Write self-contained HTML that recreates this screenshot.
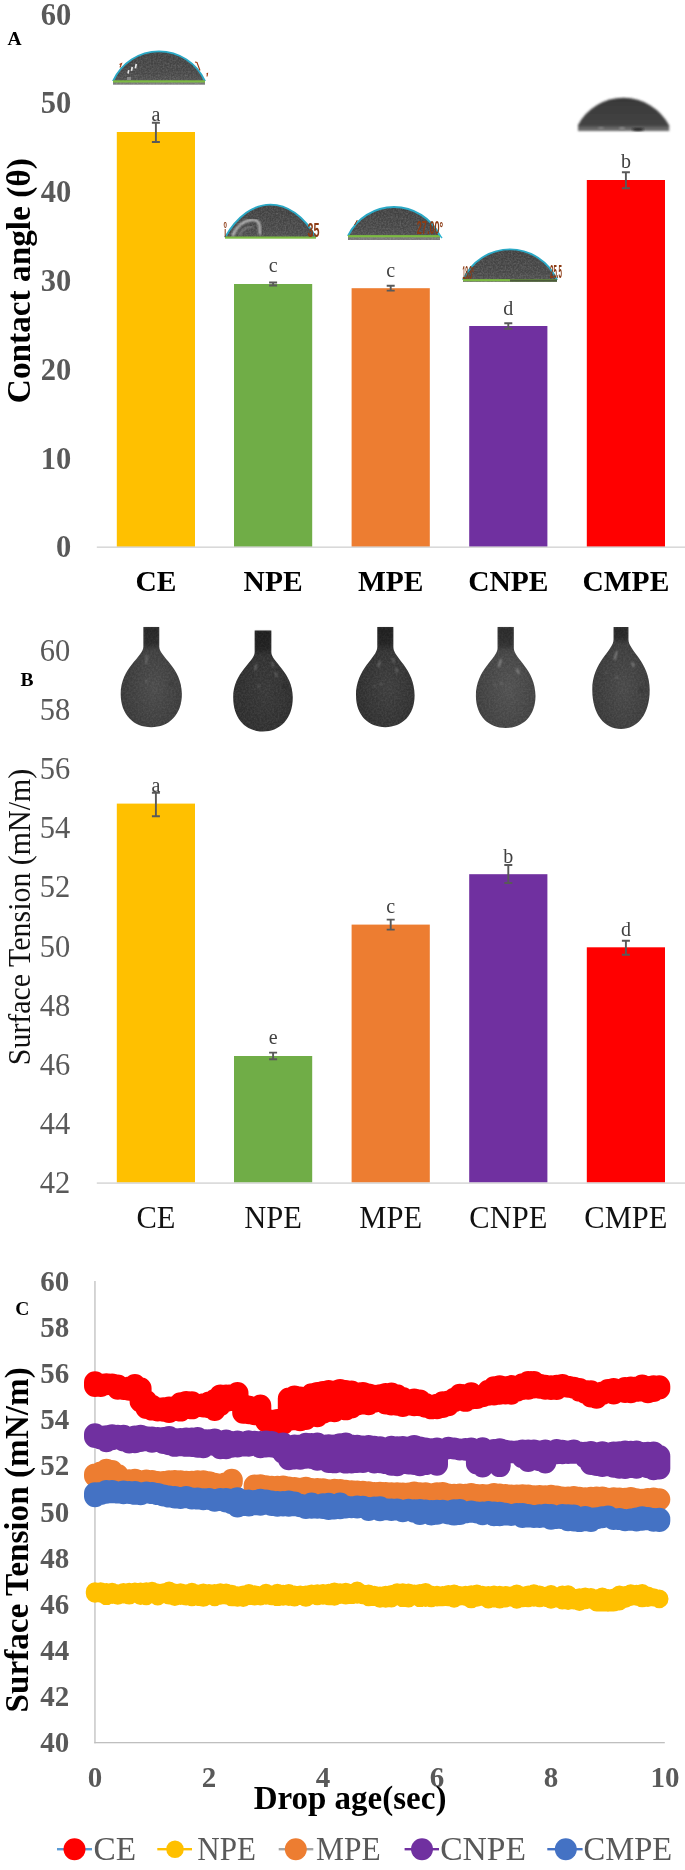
<!DOCTYPE html>
<html lang="en"><head><meta charset="utf-8"><title>Figure</title>
<style>
html,body{margin:0;padding:0;background:#fff;}
body{width:685px;height:1870px;overflow:hidden;font-family:"Liberation Serif",serif;}
svg{position:absolute;left:0;top:0;display:block;will-change:transform;font-family:'Liberation Serif', serif;}
</style></head>
<body>
<svg width="685" height="1870" viewBox="0 0 685 1870">
<defs>
<filter id="soft" x="-5%" y="-5%" width="110%" height="110%"><feGaussianBlur stdDeviation="0.55"/></filter>
<filter id="grain" x="-5%" y="-5%" width="110%" height="110%" color-interpolation-filters="sRGB">
<feGaussianBlur in="SourceGraphic" stdDeviation="0.55" result="b"/>
<feTurbulence type="fractalNoise" baseFrequency="0.6" numOctaves="2" seed="4" result="t"/>
<feColorMatrix in="t" type="matrix" values="0 0 0 0 1  0 0 0 0 1  0 0 0 0 1  0.30 0 0 0 -0.10" result="w0"/>
<feGaussianBlur in="w0" stdDeviation="0.45" result="w"/>
<feComposite in="w" in2="b" operator="in" result="wn"/>
<feMerge><feMergeNode in="b"/><feMergeNode in="wn"/></feMerge>
</filter>
<filter id="grain2" x="-5%" y="-5%" width="110%" height="110%" color-interpolation-filters="sRGB">
<feGaussianBlur in="SourceGraphic" stdDeviation="0.7" result="b"/>
<feTurbulence type="fractalNoise" baseFrequency="0.55" numOctaves="2" seed="9" result="t"/>
<feColorMatrix in="t" type="matrix" values="0 0 0 0 1  0 0 0 0 1  0 0 0 0 1  0.16 0 0 0 -0.05" result="w0"/>
<feGaussianBlur in="w0" stdDeviation="0.5" result="w"/>
<feComposite in="w" in2="b" operator="in" result="wn"/>
<feMerge><feMergeNode in="b"/><feMergeNode in="wn"/></feMerge>
</filter>
<linearGradient id="ndl" x1="0" y1="0" x2="0" y2="1"><stop offset="0" stop-color="#000" stop-opacity="0.32"/><stop offset="0.7" stop-color="#000" stop-opacity="0.28"/><stop offset="1" stop-color="#000" stop-opacity="0"/></linearGradient>
<linearGradient id="gsd" x1="0" y1="0" x2="0" y2="1"><stop offset="0" stop-color="#3f3f3f"/><stop offset="0.75" stop-color="#474747"/><stop offset="1" stop-color="#505050"/></linearGradient>
<filter id="soft2" x="-5%" y="-5%" width="110%" height="110%"><feGaussianBlur stdDeviation="0.8"/></filter>
<radialGradient id="gd1" cx="0.55" cy="0.6" r="0.6"><stop offset="0" stop-color="#4a4a4a"/><stop offset="1" stop-color="#363636"/></radialGradient>
<radialGradient id="gd2" cx="0.55" cy="0.6" r="0.6"><stop offset="0" stop-color="#373737"/><stop offset="1" stop-color="#2a2a2a"/></radialGradient>
<radialGradient id="gd3" cx="0.55" cy="0.6" r="0.6"><stop offset="0" stop-color="#3d3d3d"/><stop offset="1" stop-color="#2b2b2b"/></radialGradient>
<radialGradient id="gd4" cx="0.55" cy="0.6" r="0.6"><stop offset="0" stop-color="#505050"/><stop offset="1" stop-color="#3c3c3c"/></radialGradient>
<radialGradient id="gd5" cx="0.55" cy="0.6" r="0.6"><stop offset="0" stop-color="#484848"/><stop offset="1" stop-color="#363636"/></radialGradient>
<linearGradient id="gs5" x1="0" y1="0" x2="0" y2="1"><stop offset="0" stop-color="#383838"/><stop offset="0.84" stop-color="#444"/><stop offset="0.91" stop-color="#6c6c6c"/><stop offset="1" stop-color="#626262"/></linearGradient>
</defs>
<text x="71.3" y="24.6" font-size="30.5" font-weight="bold" fill="#595959" text-anchor="end" >60</text>
<text x="71.3" y="113.4" font-size="30.5" font-weight="bold" fill="#595959" text-anchor="end" >50</text>
<text x="71.3" y="202.2" font-size="30.5" font-weight="bold" fill="#595959" text-anchor="end" >40</text>
<text x="71.3" y="291.0" font-size="30.5" font-weight="bold" fill="#595959" text-anchor="end" >30</text>
<text x="71.3" y="379.7" font-size="30.5" font-weight="bold" fill="#595959" text-anchor="end" >20</text>
<text x="71.3" y="468.5" font-size="30.5" font-weight="bold" fill="#595959" text-anchor="end" >10</text>
<text x="71.3" y="557.3" font-size="30.5" font-weight="bold" fill="#595959" text-anchor="end" >0</text>
<text x="7.5" y="44.6" font-size="19.5" font-weight="bold" fill="#000" text-anchor="start" >A</text>
<text transform="translate(29.8,280.7) rotate(-90) scale(0.96,1)" font-size="34.7" font-weight="bold" fill="#000" text-anchor="middle">Contact angle (θ)</text>
<rect x="116.8" y="132.0" width="78.2" height="415.2" fill="#FFC000"/>
<rect x="234.0" y="284.0" width="78.2" height="263.2" fill="#70AD47"/>
<rect x="351.6" y="288.2" width="78.2" height="259.0" fill="#ED7D31"/>
<rect x="469.2" y="326.0" width="78.2" height="221.2" fill="#7030A0"/>
<rect x="586.8" y="180.0" width="78.2" height="367.2" fill="#FF0000"/>
<rect x="96.8" y="546.4000000000001" width="588.2" height="1.6" fill="#D9D9D9"/>
<path d="M151.9,122.7 h8.0 M151.9,142.0 h8.0 M155.9,122.7 V142.0" stroke="#595959" stroke-width="1.9" fill="none"/>
<text x="155.9" y="120.6" font-size="20" font-weight="normal" fill="#404040" text-anchor="middle" >a</text>
<path d="M269.1,282.5 h8.0 M269.1,285.5 h8.0 M273.1,282.5 V285.5" stroke="#595959" stroke-width="1.9" fill="none"/>
<text x="273.1" y="271.7" font-size="20" font-weight="normal" fill="#404040" text-anchor="middle" >c</text>
<path d="M386.70000000000005,285.8 h8.0 M386.70000000000005,290.6 h8.0 M390.70000000000005,285.8 V290.6" stroke="#595959" stroke-width="1.9" fill="none"/>
<text x="390.7" y="276.8" font-size="20" font-weight="normal" fill="#404040" text-anchor="middle" >c</text>
<path d="M504.3,323.2 h8.0 M504.3,328.8 h8.0 M508.3,323.2 V328.8" stroke="#595959" stroke-width="1.9" fill="none"/>
<text x="508.3" y="315.1" font-size="20" font-weight="normal" fill="#404040" text-anchor="middle" >d</text>
<path d="M621.9,172.2 h8.0 M621.9,188.3 h8.0 M625.9,172.2 V188.3" stroke="#595959" stroke-width="1.9" fill="none"/>
<text x="625.9" y="167.8" font-size="20" font-weight="normal" fill="#404040" text-anchor="middle" >b</text>
<text x="155.9" y="591.3" font-size="29.5" font-weight="bold" fill="#000" text-anchor="middle" >CE</text>
<text x="273.1" y="591.3" font-size="29.5" font-weight="bold" fill="#000" text-anchor="middle" >NPE</text>
<text x="390.7" y="591.3" font-size="29.5" font-weight="bold" fill="#000" text-anchor="middle" >MPE</text>
<text x="508.3" y="591.3" font-size="29.5" font-weight="bold" fill="#000" text-anchor="middle" >CNPE</text>
<text x="625.9" y="591.3" font-size="29.5" font-weight="bold" fill="#000" text-anchor="middle" >CMPE</text>
<g>
<path d="M113,81.2 A50.4,50.4 0 0 1 205,81.2 Z" fill="url(#gsd)" filter="url(#grain)"/>
<rect x="113" y="81.2" width="92" height="3.5" fill="#787878" filter="url(#grain)"/>
<path d="M113,81.2 A50.4,50.4 0 0 1 205,81.2" fill="none" stroke="#2BA9C6" stroke-width="1.9"/>
<rect x="113" y="80.3" width="92" height="2.2" fill="#7DBB42"/>
</g>
<g fill="#e8e8e8" filter="url(#soft)"><rect x="127.5" y="70" width="1.6" height="3.5" transform="rotate(12 128 72)"/><rect x="131" y="67" width="1.7" height="4" transform="rotate(12 132 69)"/><rect x="135" y="64" width="1.7" height="4.5" transform="rotate(12 136 66)"/><rect x="127" y="77" width="4" height="3" fill="#888"/></g>
<path d="M119.5,64.5 l2,-1 l-1.5,4 M195,62 l2,0.5 l3,8 M206.5,74 l1,-0.5 l-0.5,3" stroke="#A03C14" stroke-width="1.1" fill="none"/>
<g>
<path d="M225,237.4 C250.0,193.7 291.0,193.7 316,237.4 Z" fill="url(#gsd)" filter="url(#grain)"/>
<path d="M225,237.4 C250.0,193.7 291.0,193.7 316,237.4" fill="none" stroke="#2BA9C6" stroke-width="1.9"/>
<rect x="225" y="236.5" width="91" height="2.2" fill="#7DBB42"/>
</g>
<path d="M232.5,236 C236,227 243,221 251,220 C260,219 260,225 260,234.5" stroke="#d8d8d8" stroke-width="2.3" fill="none" filter="url(#soft2)" opacity="0.85"/>
<path d="M239,235.5 C242,229 247,226.5 254,226.5" stroke="#9a9a9a" stroke-width="1.4" fill="none" filter="url(#soft2)" opacity="0.8"/>
<g fill="#8C3B14" font-weight="bold" font-family="Liberation Sans, sans-serif"><text x="223.6" y="227.8" font-size="9" textLength="3.4" lengthAdjust="spacingAndGlyphs">0</text><text x="307.5" y="236.5" font-size="20" textLength="12" lengthAdjust="spacingAndGlyphs">35</text></g>
<path d="M225.2,229 v8" stroke="#8C3B14" stroke-width="1" fill="none"/>
<g>
<path d="M348,236.0 A51.0,51.0 0 0 1 440,236.0 Z" fill="url(#gsd)" filter="url(#grain)"/>
<rect x="348" y="236.0" width="92" height="4.0" fill="#787878" filter="url(#grain)"/>
<path d="M348,236.0 A51.0,51.0 0 0 1 440,236.0" fill="none" stroke="#2BA9C6" stroke-width="1.9"/>
<rect x="348" y="235.1" width="92" height="2.2" fill="#7DBB42"/>
</g>
<g fill="#8C3B14" font-size="19" font-weight="bold" font-family="Liberation Sans, sans-serif"><text x="416.8" y="234.4" textLength="26.4" lengthAdjust="spacingAndGlyphs">27.00°</text></g>
<path d="M438,233 l4,5" stroke="#2EB5D2" stroke-width="1.4"/><path d="M354.5,225 l2.8,-5" stroke="#8C3B14" stroke-width="1"/>
<g>
<path d="M463,280.0 A51.4,51.4 0 0 1 557,280.0 Z" fill="url(#gsd)" filter="url(#grain)"/>
<rect x="463" y="280.0" width="94" height="2.0" fill="#787878" filter="url(#grain)"/>
<path d="M463,280.0 A51.4,51.4 0 0 1 557,280.0" fill="none" stroke="#2BA9C6" stroke-width="1.9"/>
<rect x="463" y="279.1" width="94" height="2.2" fill="#7DBB42"/>
</g>
<g fill="#8C3B14" font-size="18" font-weight="bold" font-family="Liberation Sans, sans-serif"><text x="462.6" y="278.6" textLength="11.4" lengthAdjust="spacingAndGlyphs">18.3°</text><text x="550" y="277.8" textLength="12" lengthAdjust="spacingAndGlyphs">25.5</text></g>
<rect x="510" y="279.4" width="47" height="2.2" fill="#4b5a3a"/>
<path d="M578,131 L578,125 A51.6,51.6 0 0 1 669.2,125.6 L669.2,131 Z" fill="url(#gs5)" filter="url(#soft2)"/>
<ellipse cx="638" cy="129.3" rx="6" ry="1.6" fill="#252525" filter="url(#soft2)"/><ellipse cx="622" cy="128.5" rx="3" ry="1.5" fill="#8a8a8a" filter="url(#soft2)"/><ellipse cx="601" cy="128.3" rx="3" ry="1.4" fill="#858585" filter="url(#soft2)"/>
<text x="70.3" y="1192.8" font-size="30.5" font-weight="normal" fill="#595959" text-anchor="end" >42</text>
<text x="70.3" y="1133.7" font-size="30.5" font-weight="normal" fill="#595959" text-anchor="end" >44</text>
<text x="70.3" y="1074.6" font-size="30.5" font-weight="normal" fill="#595959" text-anchor="end" >46</text>
<text x="70.3" y="1015.6" font-size="30.5" font-weight="normal" fill="#595959" text-anchor="end" >48</text>
<text x="70.3" y="956.5" font-size="30.5" font-weight="normal" fill="#595959" text-anchor="end" >50</text>
<text x="70.3" y="897.4" font-size="30.5" font-weight="normal" fill="#595959" text-anchor="end" >52</text>
<text x="70.3" y="838.3" font-size="30.5" font-weight="normal" fill="#595959" text-anchor="end" >54</text>
<text x="70.3" y="779.2" font-size="30.5" font-weight="normal" fill="#595959" text-anchor="end" >56</text>
<text x="70.3" y="720.2" font-size="30.5" font-weight="normal" fill="#595959" text-anchor="end" >58</text>
<text x="70.3" y="661.1" font-size="30.5" font-weight="normal" fill="#595959" text-anchor="end" >60</text>
<text x="20.6" y="686.0" font-size="19.5" font-weight="bold" fill="#000" text-anchor="start" >B</text>
<text transform="translate(30.4,917) rotate(-90) scale(0.935,1)" font-size="32" fill="#111" text-anchor="middle">Surface Tension (mN/m)</text>
<rect x="116.8" y="803.6" width="78.2" height="379.1" fill="#FFC000"/>
<rect x="234.0" y="1056.0" width="78.2" height="126.7" fill="#70AD47"/>
<rect x="351.6" y="924.6" width="78.2" height="258.1" fill="#ED7D31"/>
<rect x="469.2" y="874.2" width="78.2" height="308.5" fill="#7030A0"/>
<rect x="586.8" y="947.3" width="78.2" height="235.4" fill="#FF0000"/>
<rect x="96.8" y="1182.3" width="588.2" height="1.6" fill="#D9D9D9"/>
<path d="M151.9,792.8 h8.0 M151.9,816.3 h8.0 M155.9,792.8 V816.3" stroke="#595959" stroke-width="1.9" fill="none"/>
<text x="155.9" y="791.8" font-size="20" font-weight="normal" fill="#404040" text-anchor="middle" >a</text>
<path d="M269.1,1052.6 h8.0 M269.1,1059.2 h8.0 M273.1,1052.6 V1059.2" stroke="#595959" stroke-width="1.9" fill="none"/>
<text x="273.1" y="1043.6" font-size="20" font-weight="normal" fill="#404040" text-anchor="middle" >e</text>
<path d="M386.70000000000005,919.6 h8.0 M386.70000000000005,929.6 h8.0 M390.70000000000005,919.6 V929.6" stroke="#595959" stroke-width="1.9" fill="none"/>
<text x="390.7" y="912.8" font-size="20" font-weight="normal" fill="#404040" text-anchor="middle" >c</text>
<path d="M504.3,865.0 h8.0 M504.3,883.0 h8.0 M508.3,865.0 V883.0" stroke="#595959" stroke-width="1.9" fill="none"/>
<text x="508.3" y="862.5" font-size="20" font-weight="normal" fill="#404040" text-anchor="middle" >b</text>
<path d="M621.9,940.7 h8.0 M621.9,954.8 h8.0 M625.9,940.7 V954.8" stroke="#595959" stroke-width="1.9" fill="none"/>
<text x="625.9" y="935.5" font-size="20" font-weight="normal" fill="#404040" text-anchor="middle" >d</text>
<text x="155.9" y="1228.0" font-size="30.5" font-weight="normal" fill="#111" text-anchor="middle" >CE</text>
<text x="273.1" y="1228.0" font-size="30.5" font-weight="normal" fill="#111" text-anchor="middle" >NPE</text>
<text x="390.7" y="1228.0" font-size="30.5" font-weight="normal" fill="#111" text-anchor="middle" >MPE</text>
<text x="508.3" y="1228.0" font-size="30.5" font-weight="normal" fill="#111" text-anchor="middle" >CNPE</text>
<text x="625.9" y="1228.0" font-size="30.5" font-weight="normal" fill="#111" text-anchor="middle" >CMPE</text>
<path d="M143.4,627.0 L143.4,646.5 C143.4,657.0 120.70000000000002,667.4 120.70000000000002,694.0 C120.70000000000002,714.6 133.6,727.2 151.3,727.2 C169.0,727.2 181.9,714.6 181.9,694.0 C181.9,667.4 159.20000000000002,657.0 159.20000000000002,646.5 L159.20000000000002,627.0 Z" fill="url(#gd1)" filter="url(#grain2)"/>
<rect x="144.0" y="627.8" width="14.6" height="22.5" fill="url(#ndl)" filter="url(#soft2)"/>
<path d="M254.7,630.4 L254.7,652.0 C254.7,662.0 233.2,672.0 233.2,697.5 C233.2,718.6 245.7,731.5 263.0,731.5 C280.3,731.5 292.8,718.6 292.8,697.5 C292.8,672.0 271.3,662.0 271.3,652.0 L271.3,630.4 Z" fill="url(#gd2)" filter="url(#grain2)"/>
<rect x="255.3" y="631.1999999999999" width="15.4" height="24.6" fill="url(#ndl)" filter="url(#soft2)"/>
<path d="M377.3,627.0 L377.3,647.0 C377.3,657.7 356.0,668.4 356.0,695.6 C356.0,715.2 368.3,727.2 385.3,727.2 C402.3,727.2 414.6,715.2 414.6,695.6 C414.6,668.4 393.3,657.7 393.3,647.0 L393.3,627.0 Z" fill="url(#gd3)" filter="url(#grain2)"/>
<rect x="377.9" y="627.8" width="14.8" height="23.0" fill="url(#ndl)" filter="url(#soft2)"/>
<path d="M497.59999999999997,627.0 L497.59999999999997,648.0 C497.59999999999997,658.6 475.9,669.1 475.9,696.0 C475.9,715.8 488.4,728.0 505.7,728.0 C523.0,728.0 535.5,715.8 535.5,696.0 C535.5,669.1 513.8,658.6 513.8,648.0 L513.8,627.0 Z" fill="url(#gd4)" filter="url(#grain2)"/>
<rect x="498.2" y="627.8" width="15.0" height="24.0" fill="url(#ndl)" filter="url(#soft2)"/>
<path d="M613.6,627.0 L613.6,639.5 C613.6,650.6 592.3,661.7 592.3,690.0 C592.3,714.2 604.4,729.0 621.0,729.0 C637.6,729.0 649.7,714.2 649.7,690.0 C649.7,661.7 628.4,650.6 628.4,639.5 L628.4,627.0 Z" fill="url(#gd5)" filter="url(#grain2)"/>
<rect x="614.2" y="627.8" width="13.6" height="15.5" fill="url(#ndl)" filter="url(#soft2)"/>
<g fill="#8c8c8c" filter="url(#soft2)" opacity="0.85"><rect x="146" y="655" width="1.2" height="9" transform="rotate(5 146 659)"/><circle cx="146.5" cy="681.5" r="0.9"/><circle cx="171" cy="684" r="2" fill="#333" opacity="0.7"/><rect x="255" y="664" width="1.4" height="6" transform="rotate(15 255 667)"/><rect x="272" y="662" width="1.2" height="5" transform="rotate(-15 272 664)"/><rect x="275.5" y="672" width="1.2" height="5" transform="rotate(-20 276 674)"/><circle cx="258.5" cy="686.5" r="1"/><circle cx="285" cy="687" r="2" fill="#262626" opacity="0.7"/><rect x="378.5" y="661" width="1.4" height="6" transform="rotate(15 379 664)"/><rect x="392.5" y="658" width="1.2" height="5" transform="rotate(-20 393 660)"/><rect x="396" y="668" width="1.3" height="5" transform="rotate(-20 396 670)"/><circle cx="381" cy="684" r="0.9"/><circle cx="374.5" cy="685.5" r="0.8"/><rect x="499" y="659" width="1.8" height="8" transform="rotate(15 500 663)" fill="#a2a2a2"/><rect x="517" y="668" width="1.6" height="6" transform="rotate(-18 518 671)" fill="#a2a2a2"/><circle cx="501.5" cy="683.5" r="1"/><circle cx="495" cy="685.5" r="0.8"/><rect x="615" y="651" width="1.7" height="9" transform="rotate(14 616 655)" fill="#9a9a9a"/><rect x="632" y="662" width="1.7" height="5" transform="rotate(-20 633 664)" fill="#9a9a9a"/><circle cx="617" cy="677.5" r="1"/><circle cx="606" cy="672" r="0.8"/><circle cx="641" cy="690" r="2.2" fill="#303030" opacity="0.7"/></g>
<text x="69.3" y="1752.3" font-size="29" font-weight="bold" fill="#595959" text-anchor="end" >40</text>
<text x="69.3" y="1706.1" font-size="29" font-weight="bold" fill="#595959" text-anchor="end" >42</text>
<text x="69.3" y="1660.0" font-size="29" font-weight="bold" fill="#595959" text-anchor="end" >44</text>
<text x="69.3" y="1613.8" font-size="29" font-weight="bold" fill="#595959" text-anchor="end" >46</text>
<text x="69.3" y="1567.7" font-size="29" font-weight="bold" fill="#595959" text-anchor="end" >48</text>
<text x="69.3" y="1521.5" font-size="29" font-weight="bold" fill="#595959" text-anchor="end" >50</text>
<text x="69.3" y="1475.4" font-size="29" font-weight="bold" fill="#595959" text-anchor="end" >52</text>
<text x="69.3" y="1429.2" font-size="29" font-weight="bold" fill="#595959" text-anchor="end" >54</text>
<text x="69.3" y="1383.1" font-size="29" font-weight="bold" fill="#595959" text-anchor="end" >56</text>
<text x="69.3" y="1337.0" font-size="29" font-weight="bold" fill="#595959" text-anchor="end" >58</text>
<text x="69.3" y="1290.8" font-size="29" font-weight="bold" fill="#595959" text-anchor="end" >60</text>
<text x="15.2" y="1315.3" font-size="19.5" font-weight="bold" fill="#000" text-anchor="start" >C</text>
<text transform="translate(28.2,1539.9) rotate(-90) scale(0.97,1)" font-size="34.3" font-weight="bold" fill="#000" text-anchor="middle">Surface Tension (mN/m)</text>
<text x="95.0" y="1787.0" font-size="29" font-weight="bold" fill="#595959" text-anchor="middle" >0</text>
<text x="209.0" y="1787.0" font-size="29" font-weight="bold" fill="#595959" text-anchor="middle" >2</text>
<text x="323.0" y="1787.0" font-size="29" font-weight="bold" fill="#595959" text-anchor="middle" >4</text>
<text x="437.0" y="1787.0" font-size="29" font-weight="bold" fill="#595959" text-anchor="middle" >6</text>
<text x="551.0" y="1787.0" font-size="29" font-weight="bold" fill="#595959" text-anchor="middle" >8</text>
<text x="665.0" y="1787.0" font-size="29" font-weight="bold" fill="#595959" text-anchor="middle" >10</text>
<text x="350.0" y="1808.8" font-size="33" font-weight="bold" fill="#000" text-anchor="middle" >Drop age(sec)</text>
<rect x="94.3" y="1281" width="1.3" height="462.3" fill="#BFBFBF"/>
<rect x="94.3" y="1742" width="570.5" height="1.3" fill="#BFBFBF"/>
<path d="M95.0,1382.3V1386.01M100.7,1384.6V1385.88M106.4,1384.2V1384.19M112.1,1384.4V1384.45M117.8,1385.6V1388.77M123.5,1388.9V1388.89M129.2,1387.4V1389.66M134.9,1385.1V1389.33M140.6,1388.2V1401.47M146.3,1401.1V1408.02M152.0,1405.8V1409.60M157.7,1408.2V1410.50M163.4,1408.3V1410.68M169.1,1407.6V1411.89M174.8,1406.9V1410.08M180.5,1403.2V1410.61M186.2,1401.9V1408.17M191.9,1402.2V1408.36M197.6,1405.4V1406.08M203.3,1404.3V1406.40M209.0,1402.4V1407.17M214.7,1400.0V1410.07M220.4,1395.4V1404.86M226.1,1395.4V1401.02M231.8,1395.3V1400.01M237.5,1393.1V1398.72M243.2,1408.4V1412.80M248.9,1406.4V1413.26M254.6,1408.8V1414.13M260.3,1405.6V1414.82M266.0,1420.0V1421.18M271.7,1420.7V1422.81M277.4,1420.1V1423.40M283.1,1420.2V1423.75M288.8,1398.6V1420.02M294.5,1396.5V1419.23M300.2,1397.5V1420.26M305.9,1397.7V1419.05M311.6,1394.2V1415.14M317.3,1392.9V1416.32M323.0,1391.9V1412.68M328.7,1391.1V1411.04M334.4,1391.4V1411.26M340.1,1390.0V1408.21M345.8,1390.9V1409.37M351.5,1391.6V1407.59M357.2,1393.2V1404.35M362.9,1393.0V1403.58M368.6,1394.5V1404.25M374.3,1395.8V1401.71M380.0,1395.2V1400.10M385.7,1393.9V1403.38M391.4,1393.4V1404.51M397.1,1395.3V1404.78M402.8,1398.0V1405.91M408.5,1402.9V1404.54M414.2,1399.5V1405.14M419.9,1400.4V1405.14M425.6,1403.9V1406.63M431.3,1405.7V1408.36M437.0,1404.8V1408.34M442.7,1402.2V1407.00M448.4,1401.4V1405.16M454.1,1398.8V1401.34M459.8,1394.7V1399.61M465.5,1395.0V1400.87M471.2,1393.2V1398.48M476.9,1397.0V1398.03M482.6,1395.5V1396.29M488.3,1390.8V1394.80M494.0,1387.2V1394.39M499.7,1386.2V1393.66M505.4,1387.2V1393.56M511.1,1386.1V1393.67M516.8,1387.2V1390.83M522.5,1384.3V1389.09M528.2,1382.1V1388.66M533.9,1382.1V1387.52M539.6,1384.8V1387.77M545.3,1385.7V1388.84M551.0,1386.2V1388.93M556.7,1385.8V1389.05M562.4,1385.0V1386.21M568.1,1386.8V1386.82M573.8,1387.8V1387.82M579.5,1389.1V1390.62M585.2,1391.0V1392.60M590.9,1391.3V1396.50M596.6,1393.2V1397.73M602.3,1392.4V1394.03M608.0,1390.0V1391.78M613.7,1388.9V1393.42M619.4,1389.7V1390.93M625.1,1387.9V1391.98M630.8,1387.5V1392.31M636.5,1387.6V1390.87M642.2,1385.5V1390.57M647.9,1386.9V1392.14M653.6,1386.3V1391.08M659.3,1386.3V1388.49" stroke="#FF0000" stroke-width="22" stroke-linecap="round" fill="none"/>
<path d="M95.0,1591.5V1593.53M100.7,1591.5V1593.48M106.4,1592.2V1595.87M112.1,1591.9V1594.78M117.8,1593.5V1595.53M123.5,1592.1V1594.30M129.2,1592.0V1595.40M134.9,1591.8V1593.33M140.6,1591.7V1595.68M146.3,1591.5V1595.97M152.0,1591.0V1593.75M157.7,1592.7V1596.22M163.4,1592.5V1593.94M169.1,1590.8V1595.40M174.8,1592.6V1596.70M180.5,1592.4V1595.84M186.2,1593.4V1596.40M191.9,1592.0V1596.96M197.6,1593.7V1596.75M203.3,1592.7V1597.65M209.0,1593.1V1595.47M214.7,1593.3V1596.96M220.4,1592.4V1595.55M226.1,1592.6V1595.38M231.8,1593.9V1597.16M237.5,1595.5V1597.64M243.2,1594.6V1597.75M248.9,1593.3V1595.89M254.6,1594.5V1596.31M260.3,1595.2V1596.20M266.0,1592.9V1595.44M271.7,1594.7V1596.08M277.4,1593.0V1596.90M283.1,1594.0V1596.57M288.8,1593.3V1596.70M294.5,1594.7V1597.28M300.2,1594.6V1595.79M305.9,1594.8V1597.64M311.6,1593.6V1595.01M317.3,1593.4V1596.04M323.0,1593.3V1595.62M328.7,1592.9V1595.96M334.4,1591.6V1596.46M340.1,1592.4V1594.75M345.8,1591.9V1595.32M351.5,1592.9V1594.90M357.2,1590.7V1594.63M362.9,1593.8V1594.97M368.6,1593.8V1597.03M374.3,1595.0V1596.90M380.0,1595.6V1598.47M385.7,1594.9V1598.52M391.4,1594.2V1598.30M397.1,1592.4V1595.88M402.8,1592.4V1597.90M408.5,1592.7V1598.21M414.2,1593.8V1595.59M419.9,1593.3V1597.90M425.6,1592.3V1597.76M431.3,1594.7V1597.94M437.0,1595.0V1597.34M442.7,1595.3V1597.07M448.4,1594.3V1597.06M454.1,1593.7V1598.53M459.8,1595.3V1596.39M465.5,1594.9V1596.82M471.2,1594.4V1599.16M476.9,1593.7V1597.47M482.6,1595.0V1596.78M488.3,1595.2V1599.18M494.0,1594.7V1598.23M499.7,1594.9V1599.22M505.4,1595.2V1598.22M511.1,1595.6V1597.19M516.8,1593.8V1599.54M522.5,1595.6V1598.00M528.2,1594.8V1598.08M533.9,1593.4V1597.63M539.6,1594.8V1598.08M545.3,1596.0V1597.86M551.0,1594.3V1599.53M556.7,1596.5V1598.31M562.4,1594.7V1600.30M568.1,1594.5V1600.77M573.8,1597.7V1600.20M579.5,1597.4V1601.72M585.2,1596.7V1599.98M590.9,1597.3V1599.46M596.6,1598.4V1602.31M602.3,1596.7V1602.26M608.0,1598.1V1602.57M613.7,1597.8V1602.38M619.4,1594.8V1601.31M625.1,1595.2V1598.86M630.8,1593.4V1596.84M636.5,1593.9V1596.59M642.2,1593.2V1598.12M647.9,1595.7V1597.74M653.6,1597.4V1597.36M659.3,1598.8V1598.99" stroke="#FFC000" stroke-width="18.4" stroke-linecap="round" fill="none"/>
<path d="M95.0,1474.4V1475.99M100.7,1472.5V1477.01M106.4,1469.8V1475.77M112.1,1471.1V1475.82M117.8,1475.0V1477.48M123.5,1480.2V1480.56M129.2,1480.3V1481.39M134.9,1479.8V1481.85M140.6,1481.3V1481.45M146.3,1480.4V1481.00M152.0,1481.1V1482.16M157.7,1482.0V1482.01M163.4,1482.0V1482.55M169.1,1481.2V1482.23M174.8,1481.1V1482.64M180.5,1481.3V1483.60M186.2,1481.7V1483.61M191.9,1481.7V1484.64M197.6,1481.2V1484.46M203.3,1481.2V1484.88M209.0,1482.2V1485.43M214.7,1483.7V1484.53M220.4,1484.6V1485.41M226.1,1483.2V1485.89M231.8,1479.8V1481.53M254.6,1485.5V1486.74M260.3,1485.2V1486.83M266.0,1486.2V1486.93M271.7,1486.8V1486.82M277.4,1486.7V1487.38M283.1,1486.6V1487.49M288.8,1487.4V1488.59M294.5,1488.0V1487.99M300.2,1488.8V1488.81M305.9,1487.8V1488.18M311.6,1489.0V1489.54M317.3,1488.9V1489.85M323.0,1489.3V1489.32M328.7,1490.3V1491.35M334.4,1489.8V1490.78M340.1,1490.1V1491.97M345.8,1490.7V1492.19M351.5,1491.3V1491.36M357.2,1491.4V1491.99M362.9,1491.8V1492.77M368.6,1492.2V1492.58M374.3,1492.9V1493.51M380.0,1492.8V1493.84M385.7,1493.1V1494.06M391.4,1493.2V1494.03M397.1,1493.2V1494.21M402.8,1493.6V1493.84M408.5,1493.4V1493.96M414.2,1492.4V1494.21M419.9,1493.3V1494.19M425.6,1493.3V1493.68M431.3,1494.2V1495.17M437.0,1493.3V1494.40M442.7,1493.0V1495.15M448.4,1494.5V1495.74M454.1,1494.7V1495.60M459.8,1494.6V1495.31M465.5,1494.7V1495.69M471.2,1494.1V1496.26M476.9,1495.0V1495.22M482.6,1495.0V1496.76M488.3,1495.2V1496.31M494.0,1494.0V1496.00M499.7,1494.5V1496.46M505.4,1495.0V1495.99M511.1,1495.5V1495.76M516.8,1495.6V1495.66M522.5,1495.2V1496.02M528.2,1495.6V1495.75M533.9,1496.2V1496.19M539.6,1495.9V1495.94M545.3,1496.3V1496.87M551.0,1495.8V1496.72M556.7,1496.6V1496.61M562.4,1497.5V1497.48M568.1,1497.5V1497.55M573.8,1497.0V1497.03M579.5,1497.7V1497.78M585.2,1498.4V1498.37M590.9,1497.7V1497.74M596.6,1497.6V1497.64M602.3,1497.4V1497.51M608.0,1498.8V1498.85M613.7,1498.2V1498.94M619.4,1498.6V1499.18M625.1,1498.8V1498.85M630.8,1498.1V1499.09M636.5,1499.2V1499.21M642.2,1499.9V1499.87M647.9,1499.0V1498.97M653.6,1498.6V1499.31M659.3,1499.2V1499.45" stroke="#ED7D31" stroke-width="22" stroke-linecap="round" fill="none"/>
<path d="M95.0,1434.2V1436.99M100.7,1436.4V1438.49M106.4,1436.3V1441.30M112.1,1435.3V1439.25M117.8,1435.8V1436.28M123.5,1435.8V1440.39M129.2,1437.4V1442.41M134.9,1436.4V1442.15M140.6,1435.7V1441.01M146.3,1437.3V1440.23M152.0,1437.5V1441.79M157.7,1437.9V1440.96M163.4,1437.9V1442.99M169.1,1437.1V1444.25M174.8,1438.9V1445.87M180.5,1439.1V1445.28M186.2,1438.4V1445.86M191.9,1438.6V1446.05M197.6,1438.0V1446.74M203.3,1440.0V1447.15M209.0,1440.3V1444.55M214.7,1439.6V1445.01M220.4,1441.2V1448.21M226.1,1440.4V1448.32M231.8,1442.0V1446.69M237.5,1441.4V1446.47M243.2,1442.7V1445.60M248.9,1441.3V1445.64M254.6,1441.8V1444.67M260.3,1442.1V1447.30M266.0,1441.4V1446.49M271.7,1442.0V1446.53M277.4,1444.8V1447.73M283.1,1443.6V1452.70M288.8,1446.3V1459.30M294.5,1445.6V1458.41M300.2,1445.4V1458.68M305.9,1443.7V1457.72M311.6,1444.1V1458.02M317.3,1443.5V1459.81M323.0,1445.6V1459.25M328.7,1445.3V1462.01M334.4,1445.4V1462.36M340.1,1444.3V1461.48M345.8,1443.6V1462.62M351.5,1445.6V1462.42M357.2,1445.7V1461.91M362.9,1446.4V1461.94M368.6,1445.9V1460.44M374.3,1446.7V1462.45M380.0,1447.2V1462.32M385.7,1448.6V1463.12M391.4,1446.7V1464.72M397.1,1447.2V1465.23M402.8,1447.0V1462.92M408.5,1447.6V1463.54M414.2,1446.0V1463.95M419.9,1447.6V1465.21M425.6,1448.5V1464.11M431.3,1449.3V1462.88M437.0,1448.6V1464.68M442.7,1449.8V1449.85M448.4,1447.8V1448.33M454.1,1448.4V1448.39M459.8,1449.5V1449.52M465.5,1449.1V1449.64M471.2,1448.4V1449.07M476.9,1450.0V1463.45M482.6,1448.2V1466.47M488.3,1450.4V1459.84M494.0,1449.9V1455.39M499.7,1449.2V1466.11M505.4,1450.7V1452.97M511.1,1451.4V1452.27M516.8,1451.6V1452.22M522.5,1450.5V1457.14M528.2,1450.6V1460.91M533.9,1450.5V1458.60M539.6,1451.4V1460.18M545.3,1450.5V1462.42M551.0,1452.3V1453.42M556.7,1450.1V1453.15M562.4,1450.7V1453.27M568.1,1451.5V1452.99M573.8,1450.5V1452.85M579.5,1452.4V1453.18M585.2,1452.8V1457.21M590.9,1452.1V1463.95M596.6,1453.4V1465.02M602.3,1452.3V1465.92M608.0,1453.6V1465.22M613.7,1452.6V1466.67M619.4,1452.2V1467.74M625.1,1451.6V1468.02M630.8,1451.8V1466.96M636.5,1451.4V1467.69M642.2,1453.1V1465.41M647.9,1452.8V1467.22M653.6,1452.4V1469.16M659.3,1456.0V1468.39" stroke="#7030A0" stroke-width="22" stroke-linecap="round" fill="none"/>
<path d="M95.0,1493.3V1496.13M100.7,1492.9V1494.00M106.4,1490.9V1492.74M112.1,1490.9V1492.30M117.8,1492.6V1492.57M123.5,1491.4V1493.34M129.2,1492.0V1493.00M134.9,1491.9V1493.86M140.6,1493.3V1494.19M146.3,1492.6V1492.60M152.0,1493.1V1493.09M157.7,1494.1V1494.09M163.4,1495.5V1495.55M169.1,1496.6V1496.57M174.8,1496.9V1497.45M180.5,1498.0V1498.00M186.2,1497.0V1497.18M191.9,1498.5V1498.54M197.6,1498.5V1498.62M203.3,1499.3V1499.31M209.0,1499.0V1499.02M214.7,1500.4V1500.83M220.4,1499.0V1500.11M226.1,1498.9V1501.48M231.8,1499.8V1503.23M237.5,1498.2V1506.42M243.2,1500.4V1505.06M248.9,1500.5V1505.48M254.6,1500.9V1504.23M260.3,1499.8V1504.66M266.0,1500.4V1503.68M271.7,1501.5V1505.03M277.4,1501.9V1505.64M283.1,1502.0V1505.41M288.8,1501.6V1505.75M294.5,1502.4V1505.14M300.2,1504.7V1506.21M305.9,1505.3V1508.01M311.6,1503.6V1507.70M317.3,1506.0V1507.70M323.0,1504.2V1507.99M328.7,1503.8V1508.91M334.4,1504.9V1508.46M340.1,1503.5V1508.34M345.8,1506.6V1507.50M351.5,1507.2V1507.20M357.2,1506.6V1507.52M362.9,1506.8V1507.15M368.6,1508.1V1509.99M374.3,1507.4V1508.53M380.0,1507.3V1510.19M385.7,1509.2V1509.24M391.4,1509.6V1510.00M397.1,1509.5V1509.60M402.8,1510.7V1511.14M408.5,1509.8V1509.90M414.2,1510.3V1511.63M419.9,1510.1V1514.04M425.6,1510.4V1512.79M431.3,1510.9V1514.49M437.0,1510.7V1513.79M442.7,1510.7V1512.58M448.4,1511.4V1513.51M454.1,1510.3V1514.61M459.8,1510.0V1514.01M465.5,1512.2V1512.36M471.2,1511.6V1511.76M476.9,1512.4V1512.42M482.6,1512.5V1514.21M488.3,1512.0V1512.64M494.0,1512.4V1515.35M499.7,1512.8V1515.29M505.4,1513.8V1514.59M511.1,1514.9V1514.94M516.8,1513.9V1514.41M522.5,1513.9V1516.93M528.2,1515.1V1516.57M533.9,1515.9V1517.06M539.6,1515.3V1517.00M545.3,1514.8V1516.64M551.0,1514.9V1518.65M556.7,1516.7V1518.02M562.4,1515.1V1518.12M568.1,1515.2V1520.17M573.8,1515.6V1520.55M579.5,1517.7V1521.10M585.2,1517.1V1520.19M590.9,1518.4V1520.94M596.6,1518.2V1518.23M602.3,1517.2V1517.21M608.0,1516.6V1516.58M613.7,1519.0V1518.98M619.4,1519.1V1519.12M625.1,1520.1V1520.16M630.8,1519.6V1519.66M636.5,1518.5V1520.49M642.2,1517.2V1519.78M647.9,1518.0V1519.23M653.6,1519.0V1520.64M659.3,1518.8V1521.04" stroke="#4472C4" stroke-width="22" stroke-linecap="round" fill="none"/>
<rect x="57" y="1848.0" width="35.0" height="2.4" fill="#5B9BD5"/>
<circle cx="74.5" cy="1849.2" r="11" fill="#FF0000"/>
<text x="93.6" y="1859.8" font-size="33.4" font-weight="normal" fill="#595959" text-anchor="start" textLength="42.6" lengthAdjust="spacingAndGlyphs">CE</text>
<rect x="157.3" y="1848.0" width="34.7" height="2.4" fill="#FFC000"/>
<circle cx="175" cy="1849.2" r="8.8" fill="#FFC000"/>
<text x="197.3" y="1859.8" font-size="33.4" font-weight="normal" fill="#595959" text-anchor="start" textLength="58.6" lengthAdjust="spacingAndGlyphs">NPE</text>
<rect x="278.7" y="1848.0" width="34.6" height="2.4" fill="#A5A5A5"/>
<circle cx="295.8" cy="1849.2" r="11" fill="#ED7D31"/>
<text x="316.0" y="1859.8" font-size="33.4" font-weight="normal" fill="#595959" text-anchor="start" textLength="64.6" lengthAdjust="spacingAndGlyphs">MPE</text>
<rect x="404.6" y="1848.0" width="34.4" height="2.4" fill="#7030A0"/>
<circle cx="422" cy="1849.2" r="11" fill="#7030A0"/>
<text x="440.2" y="1859.8" font-size="33.4" font-weight="normal" fill="#595959" text-anchor="start" textLength="85.8" lengthAdjust="spacingAndGlyphs">CNPE</text>
<rect x="547.3" y="1848.0" width="35.3" height="2.4" fill="#4472C4"/>
<circle cx="565.8" cy="1849.2" r="11" fill="#4472C4"/>
<text x="583.6" y="1859.8" font-size="33.4" font-weight="normal" fill="#595959" text-anchor="start" textLength="88.6" lengthAdjust="spacingAndGlyphs">CMPE</text>
</svg>
</body></html>
